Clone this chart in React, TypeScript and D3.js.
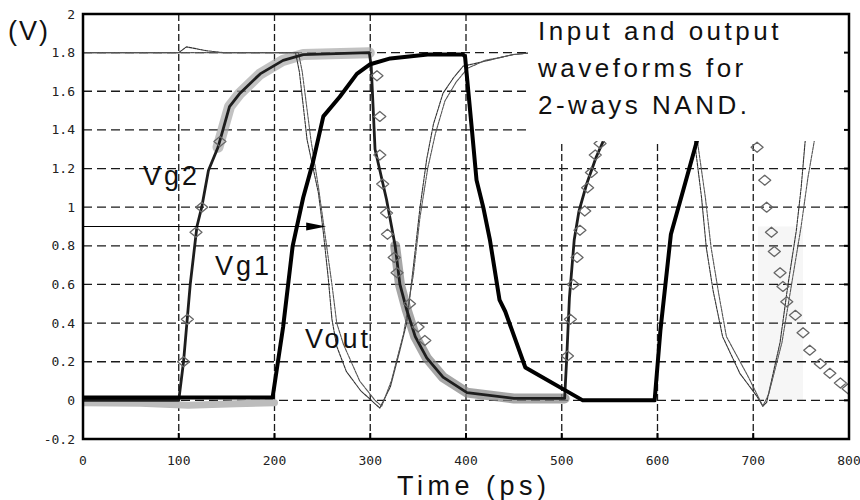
import React from "react"
import * as d3 from "d3"

type Pt = [number, number]

// axes
const xTicks = [0, 100, 200, 300, 400, 500, 600, 700, 800]
const yTicks = [-0.2, 0, 0.2, 0.4, 0.6, 0.8, 1, 1.2, 1.4, 1.6, 1.8, 2]
const yTickLabels = ["-0.2", "0", "0.2", "0.4", "0.6", "0.8", "1", "1.2", "1.4", "1.6", "1.8", "2"]
const gridX = [100, 200, 300, 400, 500, 600, 700]
const gridY = [0, 0.2, 0.4, 0.6, 0.8, 1, 1.2, 1.4, 1.6, 1.8]

// Vg1 (thick black)
const vg1: Pt[] = [
    [0, 0.015], [198, 0.015], [209, 0.38], [219, 0.8], [230, 1.05], [240, 1.23],
    [251, 1.47], [268, 1.57], [286, 1.69], [300, 1.74], [321, 1.77], [360, 1.79],
    [397, 1.79], [399, 1.78], [406, 1.41], [411, 1.14], [418, 1.0], [425, 0.83],
    [435, 0.52], [441, 0.46], [462, 0.17], [522, 0.0], [597, 0.0], [603, 0.36],
    [614, 0.86], [627, 1.09], [641, 1.34], [650, 1.5],
]

// Vg2 (dark line + measured gray band)
const vg2: Pt[] = [
    [0, 0], [100, 0], [105, 0.2], [112, 0.6], [119, 0.9], [124, 1.0], [131, 1.19],
    [141, 1.31], [153, 1.52], [164, 1.59], [185, 1.69], [209, 1.76], [230, 1.79],
    [299, 1.8], [301, 1.73], [305, 1.3], [317, 1.04], [326, 0.8], [331, 0.6],
    [338, 0.47], [347, 0.33], [359, 0.22], [376, 0.12], [401, 0.04], [450, 0.01],
    [503, 0.01], [505, 0.2], [508, 0.53], [513, 0.83], [518, 0.98], [526, 1.12],
    [536, 1.26], [545, 1.36], [560, 1.5],
]
const vg2BandRanges: Pt[] = [[138, 300], [326, 503]]
const floorNoise: Pt[] = [[0, -0.012], [60, -0.015], [110, -0.025], [160, -0.018], [200, -0.012]]

const vg2Diamonds: Pt[] = [
    [105, 0.2], [109, 0.42], [118, 0.87], [124, 1.0], [143, 1.34],
    [307, 1.68], [310, 1.47], [310, 1.27], [313, 1.12], [317, 0.97], [318, 0.86],
    [325, 0.74], [328, 0.66], [341, 0.5], [350, 0.38], [357, 0.31],
    [506, 0.23], [509, 0.42], [512, 0.6], [516, 0.74], [519, 0.88], [524, 0.98],
    [527, 1.1], [531, 1.18], [535, 1.27], [540, 1.33],
    [704, 1.31], [712, 1.14], [714, 1.0], [719, 0.87], [722, 0.77], [728, 0.66],
    [731, 0.59], [735, 0.51], [744, 0.44], [752, 0.35], [759, 0.26], [770, 0.19],
    [780, 0.14], [791, 0.09], [799, 0.06],
]

// Vout (two thin traces)
const voutA: Pt[] = [
    [0, 1.8], [100, 1.8], [108, 1.83], [129, 1.81], [146, 1.8], [222, 1.8],
    [226, 1.7], [234, 1.35], [240, 1.21], [246, 1.07], [251, 0.87], [256, 0.64],
    [260, 0.42], [265, 0.28], [275, 0.15], [290, 0.05], [310, -0.04], [321, 0.07],
    [331, 0.26], [338, 0.4], [345, 0.69], [352, 1.0], [359, 1.25], [366, 1.43],
    [376, 1.59], [387, 1.67], [397, 1.73], [415, 1.75], [449, 1.79], [470, 1.8],
    [634, 1.8], [639, 1.33], [646, 1.05], [651, 0.79], [658, 0.57], [668, 0.33],
    [686, 0.14], [704, 0.02], [710, -0.03], [714, -0.01], [728, 0.3], [736, 0.59],
    [745, 0.88], [750, 1.1], [754, 1.33], [758, 1.5],
]
const voutB: Pt[] = [
    [0, 1.8], [225, 1.8], [229, 1.7], [238, 1.35], [246, 1.1], [253, 0.85],
    [260, 0.6], [265, 0.4], [272, 0.29], [289, 0.1], [305, 0.0], [312, -0.03],
    [322, 0.1], [335, 0.35], [345, 0.65], [352, 0.95], [360, 1.2], [368, 1.38],
    [378, 1.55], [390, 1.65], [402, 1.72], [420, 1.76], [450, 1.79], [470, 1.8],
    [638, 1.8], [642, 1.33], [650, 1.05], [656, 0.79], [664, 0.55], [672, 0.33],
    [695, 0.12], [710, -0.03], [716, 0.03], [730, 0.3], [740, 0.6], [750, 0.9],
    [757, 1.15], [764, 1.35], [768, 1.5],
]

const arrowSpan: Pt = [0, 254]
const arrowLevel = 0.9
const shadeBox: Pt[] = [[705, 752], [0, 0.9]]

const noteLines = ["Input and output", "waveforms for", "2-ways NAND."]

const diamond = "M0,-5L6,0L0,5L-6,0Z"

export default function App() {
    const m = { left: 83, right: 849, top: 14, bottom: 439 }
    const x = d3.scaleLinear().domain([0, 800]).range([m.left, m.right])
    const y = d3.scaleLinear().domain([-0.2, 2]).range([m.bottom, m.top])
    const line = d3.line<Pt>().x((d) => x(d[0])).y((d) => y(d[1]))
    const inRange = (pts: Pt[], r: Pt) => pts.filter((p) => p[0] >= r[0] && p[0] <= r[1])

    const font = "'Liberation Sans', Arial, sans-serif"
    const tickFont = "'DejaVu Sans Mono', monospace"
    const ax = x(arrowSpan[1])
    const ay = y(arrowLevel)

    return (
        <svg width={860} height={500} style={{ position: "absolute", left: 0, top: 0 }}>
            <defs>
                <clipPath id="plot">
                    <rect x={m.left} y={m.top} width={m.right - m.left} height={m.bottom - m.top} />
                </clipPath>
            </defs>
            <rect width={860} height={500} fill="#fff" />
            <rect
                x={x(shadeBox[0][0])}
                y={y(shadeBox[1][1])}
                width={x(shadeBox[0][1]) - x(shadeBox[0][0])}
                height={y(shadeBox[1][0]) - y(shadeBox[1][1])}
                fill="#f6f6f6"
            />
            <g stroke="#1a1a1a" strokeWidth={1.3}>
                {gridY.map((v) => (
                    <line key={"gy" + v} x1={m.left} x2={m.right} y1={y(v)} y2={y(v)} strokeDasharray="9 5" />
                ))}
                {gridX.map((t) => (
                    <line key={"gx" + t} x1={x(t)} x2={x(t)} y1={m.top} y2={m.bottom} strokeDasharray="7 3" />
                ))}
            </g>
            <g clipPath="url(#plot)" fill="none" strokeLinejoin="round" strokeLinecap="round">
                <path d={line(floorNoise) || ""} stroke="#bcbcbc" strokeWidth={7} />
                <path d={line(inRange(vg2, vg2BandRanges[0])) || ""} stroke="#a8a8a8" strokeWidth={11} opacity={0.7} />
                <path d={line(inRange(vg2, vg2BandRanges[1])) || ""} stroke="#8a8a8a" strokeWidth={10} opacity={0.75} />
                <path d={line(voutA) || ""} stroke="#333" strokeWidth={1.1} strokeDasharray="3 1" />
                <path d={line(voutB) || ""} stroke="#555" strokeWidth={1.1} strokeDasharray="3 1" />
                <path d={line(vg2) || ""} stroke="#1e1e1e" strokeWidth={2.8} />
                {vg2Diamonds.map((d, i) => (
                    <path
                        key={"d" + i}
                        d={diamond}
                        transform={`translate(${x(d[0])},${y(d[1])})`}
                        stroke="#666"
                        strokeWidth={1.3}
                    />
                ))}
                <path d={line(vg1) || ""} stroke="#000" strokeWidth={4} />
            </g>
            <line x1={x(arrowSpan[0])} x2={ax - 16} y1={ay} y2={ay} stroke="#000" strokeWidth={1.2} />
            <path d={`M${ax},${ay}L${ax - 20},${ay - 4}L${ax - 20},${ay + 4}Z`} fill="#000" />
            <rect x={528} y={m.top + 1} width={m.right - 528 - 1} height={126} fill="#fff" />
            <rect
                x={m.left}
                y={m.top}
                width={m.right - m.left}
                height={m.bottom - m.top}
                fill="none"
                stroke="#000"
                strokeWidth={2.5}
            />
            <g stroke="#000" strokeWidth={2}>
                {gridX.map((t) => (
                    <line key={"tb" + t} x1={x(t)} x2={x(t)} y1={m.bottom} y2={m.bottom - 6} />
                ))}
                {gridY.map((v) => (
                    <line key={"tr" + v} x1={m.right} x2={m.right - 5} y1={y(v)} y2={y(v)} />
                ))}
            </g>
            <g fontFamily={tickFont} fontSize={13} fill="#222">
                {yTicks.map((v, i) => (
                    <text key={"yl" + v} x={75} y={y(v)} dy="0.35em" textAnchor="end">
                        {yTickLabels[i]}
                    </text>
                ))}
                {xTicks.map((t) => (
                    <text key={"xl" + t} x={x(t)} y={465} textAnchor="middle">
                        {t}
                    </text>
                ))}
            </g>
            <g fontFamily={font} fill="#111">
                <text x={8} y={40} fontSize={27} letterSpacing={2}>(V)</text>
                <text x={143} y={185} fontSize={27} letterSpacing={3}>Vg2</text>
                <text x={215} y={275} fontSize={27} letterSpacing={3}>Vg1</text>
                <text x={305} y={348} fontSize={27} letterSpacing={3}>Vout</text>
                <text x={397} y={495} fontSize={27} letterSpacing={4.5}>Time (ps)</text>
                {noteLines.map((s, i) => (
                    <text key={s} x={538} y={40 + i * 37} fontSize={26} letterSpacing={3.5}>
                        {s}
                    </text>
                ))}
            </g>
        </svg>
    )
}
